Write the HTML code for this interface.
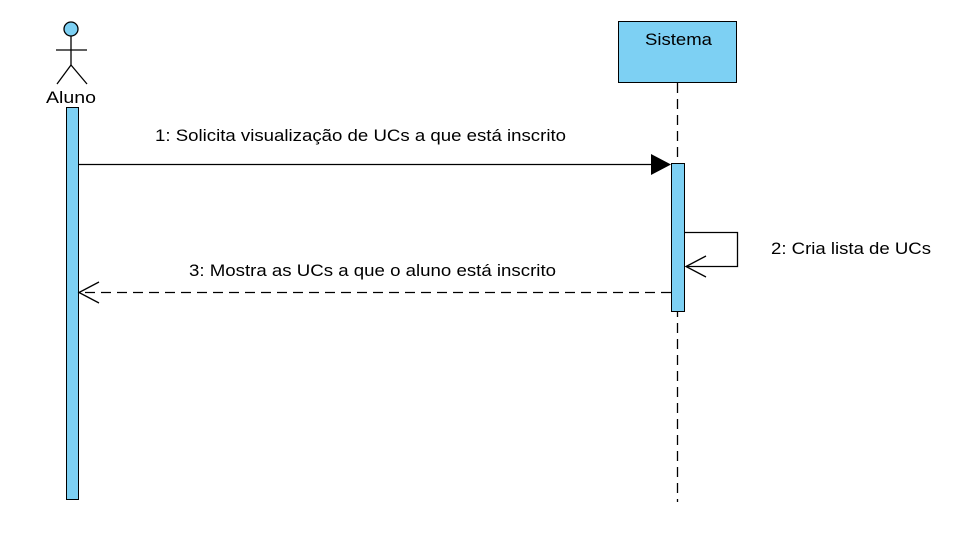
<!DOCTYPE html>
<html><head><meta charset="utf-8"><style>
html,body{margin:0;padding:0;background:#fff;}
svg{display:block;}
text{font-family:"Liberation Sans",Arial,sans-serif;font-size:17px;fill:#000;}
</style></head><body>
<svg width="954" height="544" viewBox="0 0 954 544" xmlns="http://www.w3.org/2000/svg">
<rect width="954" height="544" fill="#fff"/>
<!-- Actor -->
<circle cx="71" cy="29" r="7" fill="#7dd0f3" stroke="#000" stroke-width="1.3"/>
<line x1="71" y1="36" x2="71" y2="65" stroke="#000" stroke-width="1.3"/>
<line x1="56" y1="50" x2="87" y2="50" stroke="#000" stroke-width="1.3"/>
<line x1="71" y1="65" x2="57" y2="84" stroke="#000" stroke-width="1.3"/>
<line x1="71" y1="65" x2="87" y2="84" stroke="#000" stroke-width="1.3"/>
<text x="46" y="103" textLength="50" lengthAdjust="spacingAndGlyphs">Aluno</text>
<rect x="66.5" y="107.5" width="12" height="392" fill="#7dd0f3" stroke="#000" stroke-width="1"/>
<!-- Sistema -->
<rect x="618.5" y="21.5" width="118" height="61" fill="#7dd0f3" stroke="#000" stroke-width="1"/>
<text x="645" y="45" textLength="67" lengthAdjust="spacingAndGlyphs">Sistema</text>
<line x1="677.5" y1="83" x2="677.5" y2="502" stroke="#000" stroke-width="1.3" stroke-dasharray="10,6"/>
<rect x="671.5" y="163.5" width="13" height="148" fill="#7dd0f3" stroke="#000" stroke-width="1"/>
<!-- msg 1 -->
<line x1="79" y1="164.5" x2="655" y2="164.5" stroke="#000" stroke-width="1.3"/>
<polygon points="651,154 671,164.5 651,175" fill="#000"/>
<text x="155" y="141" textLength="411" lengthAdjust="spacingAndGlyphs">1: Solicita visualização de UCs a que está inscrito</text>
<!-- self -->
<polyline points="685,232.5 737.5,232.5 737.5,266.5 686,266.5" fill="none" stroke="#000" stroke-width="1.3"/>
<polyline points="706,256 686,266.5 706,277" fill="none" stroke="#000" stroke-width="1.3"/>
<text x="771" y="254" textLength="160" lengthAdjust="spacingAndGlyphs">2: Cria lista de UCs</text>
<!-- return -->
<line x1="671" y1="292.5" x2="80" y2="292.5" stroke="#000" stroke-width="1.3" stroke-dasharray="10,6"/>
<polyline points="99,282 79,292.5 99,303" fill="none" stroke="#000" stroke-width="1.3"/>
<text x="189" y="276" textLength="367" lengthAdjust="spacingAndGlyphs">3: Mostra as UCs a que o aluno está inscrito</text>
</svg>
</body></html>
